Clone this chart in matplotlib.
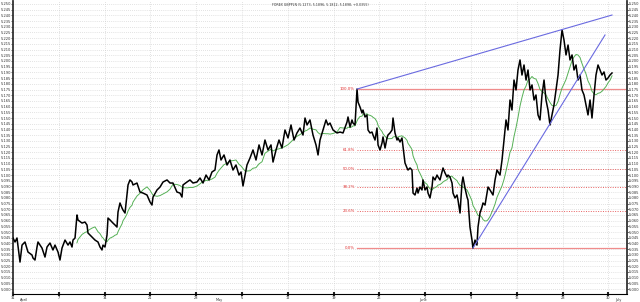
import matplotlib
matplotlib.use('Agg')
import matplotlib.pyplot as plt
import matplotlib.transforms as mtransforms
import numpy as np
import pandas as pd

# ---- data (days since 2014-03-31, GBPPLN price) ----
days = [0.00, 0.31, 0.61, 1.07, 1.38, 1.83, 2.29, 2.90, 3.06, 3.36, 3.67, 3.82, 4.43, 4.89, 5.20, 5.65,
        6.11, 6.42, 6.88, 7.18, 7.49, 7.95, 8.41, 8.71, 9.02, 9.17, 9.48, 9.78, 9.93, 10.55, 11.00, 11.31,
        11.46, 12.07, 12.53, 12.99, 13.30, 13.60, 13.75, 14.06, 14.37, 14.52, 14.83, 15.28, 15.59, 15.89,
        16.05, 16.35, 16.66, 16.81, 17.12, 17.42, 17.58, 17.88, 18.19, 18.34, 18.95, 19.41, 19.87, 20.48,
        20.94, 21.24, 21.40, 22.01, 22.47, 22.93, 23.54, 24.00, 24.45, 25.06, 25.52, 25.83, 25.98, 26.59,
        27.05, 27.51, 28.12,
        28.58, 29.04, 29.50, 29.96, 30.41, 30.87, 31.18, 31.48, 31.79, 32.25, 32.71, 33.16, 33.62, 34.08,
        34.54, 34.85, 35.15, 35.46, 35.76, 36.22, 36.68, 37.14, 37.60, 38.06, 38.51, 38.97, 39.43, 39.74,
        40.20, 40.65, 41.11, 41.57, 42.03, 42.49, 42.95, 43.40, 43.86, 44.32, 44.63, 44.94, 45.39, 45.85,
        46.31, 46.62, 46.92, 47.38, 47.84, 48.14,
        48.45, 48.91, 49.52, 49.98, 50.44, 51.05, 51.20, 51.51, 51.81, 51.96, 52.27, 52.58, 52.73, 53.03,
        53.34, 53.49, 53.80, 54.10, 54.26, 54.56, 54.87, 55.02, 55.33, 55.63, 55.79, 56.09, 56.40, 56.55,
        56.86, 57.16, 57.31, 57.62, 57.93, 58.08, 58.38, 58.69, 58.84, 59.15, 59.45, 59.61, 59.91, 60.22,
        60.37, 60.68, 60.98, 61.14, 61.44, 61.75, 61.90, 62.20, 62.51, 62.66, 62.97, 63.27, 63.43, 63.73,
        64.04, 64.19, 64.50, 64.80, 64.96, 65.26, 65.57, 65.72, 66.03, 66.33, 66.48, 66.79, 67.10, 67.25,
        67.55, 67.86, 68.01, 68.32, 68.62, 68.77, 69.08, 69.39, 69.54, 69.84, 70.15, 70.30, 70.61, 70.91,
        71.07, 71.37, 71.68, 71.83, 72.14, 72.44, 72.60, 72.90,
        73.36, 73.67, 73.97, 74.43, 74.74, 75.04, 75.35, 75.65, 75.96, 76.26, 76.57, 76.88, 77.18, 77.49,
        77.79, 78.10, 78.41, 78.71, 79.02, 79.32, 79.63, 79.93, 80.24, 80.54, 80.85, 81.16, 81.46, 81.77,
        82.07, 82.38, 82.68, 82.99, 83.30, 83.60, 83.91, 84.21, 84.52, 84.83, 85.13, 85.44, 85.74, 86.05,
        86.35, 86.66, 86.96, 87.27, 87.58, 87.88, 88.19, 88.49, 88.80, 89.10, 89.41, 89.71, 90.02, 90.32,
        90.63, 90.94, 91.24, 91.55]

close = [5.0448, 5.0413, 5.0448, 5.0237, 5.0386, 5.0413, 5.0325, 5.0299, 5.0272, 5.0255, 5.0369, 5.0413,
         5.0360, 5.0281, 5.0369, 5.0404, 5.0343, 5.0386, 5.0325, 5.0255, 5.0360, 5.0430, 5.0386, 5.0413,
         5.0369, 5.0430, 5.0448, 5.0650, 5.0606, 5.0579, 5.0588, 5.0562, 5.0492, 5.0456, 5.0430, 5.0413,
         5.0369, 5.0343, 5.0386, 5.0369, 5.0474, 5.0623, 5.0606, 5.0579, 5.0562, 5.0544, 5.0676, 5.0755,
         5.0711, 5.0693, 5.0667, 5.0825, 5.0913, 5.0957, 5.0939, 5.0913, 5.0930, 5.0851, 5.0842, 5.0825,
         5.0764, 5.0737, 5.0807, 5.0869, 5.0895, 5.0939, 5.0957, 5.0930, 5.0930, 5.0851, 5.0842, 5.0807,
         5.0913, 5.0939, 5.0957, 5.0930, 5.0939,
         5.0974, 5.0930, 5.1000, 5.0957, 5.1027, 5.1044, 5.1176, 5.1220, 5.1132, 5.1176, 5.1088, 5.1132,
         5.1044, 5.1088, 5.1000, 5.1027, 5.0904, 5.1000, 5.1088, 5.1149, 5.1220, 5.1132, 5.1264, 5.1176,
         5.1307, 5.1220, 5.1264, 5.1114, 5.1220, 5.1307, 5.1237, 5.1395, 5.1325, 5.1439, 5.1307, 5.1369,
         5.1412, 5.1351, 5.1500, 5.1439, 5.1483, 5.1351, 5.1264, 5.1176, 5.1307, 5.1395, 5.1483, 5.1439,
         5.1456, 5.1395, 5.1369, 5.1377, 5.1369, 5.1465, 5.1509, 5.1421, 5.1483, 5.1456, 5.1439, 5.1754,
         5.1640, 5.1597, 5.1544, 5.1570, 5.1509, 5.1527, 5.1395, 5.1369, 5.1377, 5.1351, 5.1307, 5.1412,
         5.1264, 5.1220, 5.1281, 5.1334, 5.1237, 5.1325, 5.1351, 5.1369, 5.1395, 5.1500, 5.1369, 5.1307,
         5.1325, 5.1290, 5.1325, 5.1246, 5.1106, 5.1062, 5.1044, 5.1062, 5.1044, 5.0842, 5.0825, 5.0886,
         5.0842, 5.0895, 5.0869, 5.0957, 5.0869, 5.0895, 5.0842, 5.0799, 5.0895, 5.0983, 5.0957, 5.1000,
         5.0983, 5.0957, 5.1027, 5.1062, 5.1018, 5.0983, 5.1000, 5.0983, 5.0930, 5.0842, 5.0799, 5.0825,
         5.0781, 5.0667, 5.0930, 5.0983, 5.0886, 5.0807, 5.0781, 5.0544, 5.0430, 5.0360, 5.0430, 5.0386,
         5.0544, 5.0667, 5.0720, 5.0755, 5.0737, 5.0842, 5.0895, 5.0869,
         5.0825, 5.0957, 5.1044, 5.1000, 5.1132, 5.1307, 5.1483, 5.1395, 5.1658, 5.1570, 5.1833, 5.1746,
         5.1921, 5.2009, 5.1877, 5.1965, 5.1833, 5.1921, 5.1746, 5.1790, 5.1658, 5.1702, 5.1527, 5.1483,
         5.1702, 5.1833, 5.1658, 5.1570, 5.1439, 5.1527, 5.1614, 5.1746, 5.1877, 5.2097, 5.2272, 5.2184,
         5.2053, 5.2140, 5.2009, 5.2053, 5.1921, 5.1965, 5.1833, 5.1877, 5.1746, 5.1702, 5.1614, 5.1527,
         5.1658, 5.1500, 5.1702, 5.1877, 5.1965, 5.1921, 5.1877, 5.1904, 5.1833, 5.1851, 5.1877, 5.1895]

title = "FOREX GBPPLN (5.1273, 5.1896, 5.1812, 5.1898, +0.0355)"

week_days = [0, 7, 14, 21, 28, 35, 42, 49, 56, 63, 70, 77, 84, 91]
week_labels = ["31", "7", "14", "21", "28", "5", "12", "19", "26", "2", "9", "16", "23", "30"]
month_days = [1, 31, 62, 92]
month_labels = ["April", "May", "June", "July"]

price_ticks = [round(5.000 + 0.005 * i, 3) for i in range(51)]

fib_ratios = [0.0, 0.236, 0.382, 0.5, 0.618, 1.0]
fib_labels = ["0.0%", "23.6%", "38.2%", "50.0%", "61.8%", "100.0%"]
fib_high_day = 52.58
fib_low_day = 70.30

upper_trend = [(52.58, 5.1754), (91.55, 5.2403)]
lower_trend = [(70.30, 5.0360), (90.48, 5.2228)]

ma_window = '3D'
ma_start_day = 9.7

# ---- figure ----
fig = plt.figure(figsize=(6.4, 3.02), dpi=100)
fig.patch.set_facecolor('white')
ax = fig.add_axes([13 / 640, 8 / 302, 614 / 640, 293 / 302])
ax.set_xlim(0, 93.84)
ax.set_ylim(4.9957, 5.2526)

# grid
for p in price_ticks:
    ax.axhline(p, color='#c8c8c8', lw=0.5, ls=(0, (1, 2)), zorder=0)
for d in week_days:
    ax.axvline(d, color='#c8c8c8', lw=0.5, ls=(0, (1, 2)), zorder=0)

d_arr = np.array(days)
c_arr = np.array(close)

# moving average
t0 = pd.Timestamp('2014-03-31')
s = pd.Series(c_arr, index=t0 + pd.to_timedelta(d_arr, unit='D'))
ma = s.rolling(ma_window).mean().values
mask = d_arr >= ma_start_day
ax.plot(d_arr[mask], ma[mask], color='#55b055', lw=0.7, zorder=3)

# fib levels
hi = c_arr[np.argmin(np.abs(d_arr - fib_high_day))]
lo = c_arr[np.argmin(np.abs(d_arr - fib_low_day))]
for r, lab in zip(fib_ratios, fib_labels):
    lvl = lo + r * (hi - lo)
    if r in (0.0, 1.0):
        ax.plot([fib_high_day, 93.84], [lvl, lvl], color='#f08c8c', lw=0.9, zorder=2)
    else:
        ax.plot([fib_high_day, 93.84], [lvl, lvl], color='#e86060', lw=0.7,
                ls=(0, (1, 1.5)), zorder=2)
    ax.annotate(lab, (fib_high_day, lvl), xytext=(-1.5, 0), textcoords='offset points',
                ha='right', va='center', fontsize=2.8, color='#e03030')

# price
ax.plot(d_arr, c_arr, color='black', lw=1.1, zorder=4)

# trend lines
for line in (upper_trend, lower_trend):
    xs, ys = zip(*line)
    ax.plot(xs, ys, color='#6a6ae0', lw=0.8, zorder=5)

# axes styling
ax.set_yticks(price_ticks)
ax.set_yticklabels([f"{p:.3f}" for p in price_ticks])
ax.tick_params(axis='y', labelsize=2.6, length=1.2, width=0.5, pad=0.3,
               left=True, right=True, labelleft=True, labelright=True, colors='#333333')
ax.set_xticks(week_days)
ax.set_xticklabels(week_labels)
ax.tick_params(axis='x', labelsize=2.5, length=2.5, width=1.5, pad=0.0, colors='#222222',
               direction='inout')
for side in ('left', 'right'):
    ax.spines[side].set_linewidth(1.3)
    ax.spines[side].set_color('#333333')
ax.spines['bottom'].set_linewidth(0.8)
ax.spines['top'].set_visible(False)

trans = mtransforms.blended_transform_factory(ax.transData, ax.transAxes)
for d, lab in zip(month_days, month_labels):
    ax.text(d, -0.0215, lab, transform=trans, fontsize=2.5, ha='left', va='center', color='#333333')

fig.text(0.5, 0.985, title, ha='center', va='center', fontsize=2.3, color='#333333')

fig.savefig('out.png', dpi=100)
